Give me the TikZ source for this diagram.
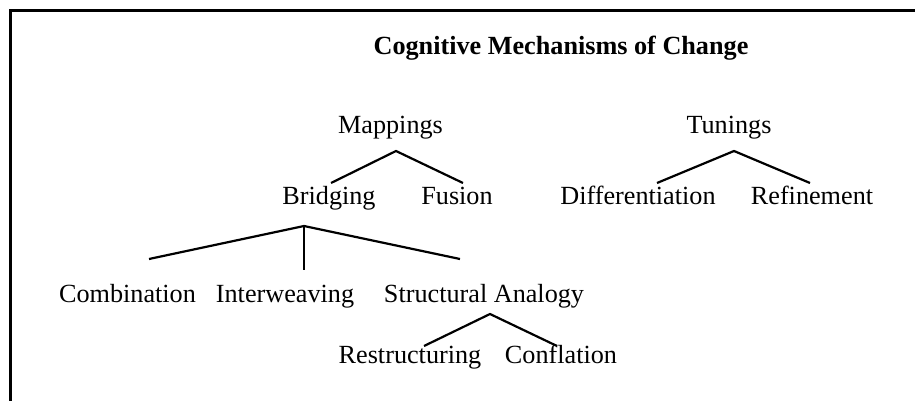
\documentclass[tikz,border=0pt]{standalone}
\usepackage{fontspec}
\setmainfont{Liberation Serif}
\begin{document}
\begin{tikzpicture}[x=1pt,y=-1pt,
  lbl/.style={anchor=base,inner sep=0pt,font=\fontsize{26.2}{30}\selectfont},
  ttl/.style={anchor=base,inner sep=0pt,font=\fontsize{26.2}{30}\selectfont\bfseries},
  branch/.style={line width=2.2pt},
  frame/.style={line width=3pt}]
\useasboundingbox (0,0) rectangle (915,401);
% open frame: top and left edges
\draw[frame] (10.5,401) -- (10.5,10.5) -- (915,10.5);

% labels
\node[ttl] (title) at (561,55) {Cognitive Mechanisms of Change};
\node[lbl] (map) at (390.5,133) {Mappings};
\node[lbl] (tun) at (729,133) {Tunings};
\node[lbl] (bri) at (329,204) {Bridging};
\node[lbl] (fus) at (457,204) {Fusion};
\node[lbl] (dif) at (638,204) {Differentiation};
\node[lbl] (ref) at (812,204) {Refinement};
\node[lbl] (com) at (127.5,302) {Combination};
\node[lbl] (int) at (285,302) {Interweaving};
\node[lbl] (sa) at (484,302) {Structural Analogy};
\node[lbl] (res) at (410,363) {Restructuring};
\node[lbl] (con) at (561,363) {Conflation};

% branch points
\coordinate (mapJ) at (396,151);
\coordinate (mapL) at (331,183);
\coordinate (mapR) at (463,183);
\coordinate (tunJ) at (734,151);
\coordinate (tunL) at (657,183);
\coordinate (tunR) at (810,183);
\coordinate (briJ) at (304,226);
\coordinate (briL) at (149,259);
\coordinate (briM) at (304,270);
\coordinate (briR) at (460,259);
\coordinate (saJ) at (490,314);
\coordinate (saL) at (424,346);
\coordinate (saR) at (557,346);

% tree branches
\draw[branch] (mapL) -- (mapJ) -- (mapR);
\draw[branch] (tunL) -- (tunJ) -- (tunR);
\draw[branch] (briL) -- (briJ) -- (briR);
\draw[branch] (briJ) -- (briM);
\draw[branch] (saL) -- (saJ) -- (saR);
\end{tikzpicture}
\end{document}
